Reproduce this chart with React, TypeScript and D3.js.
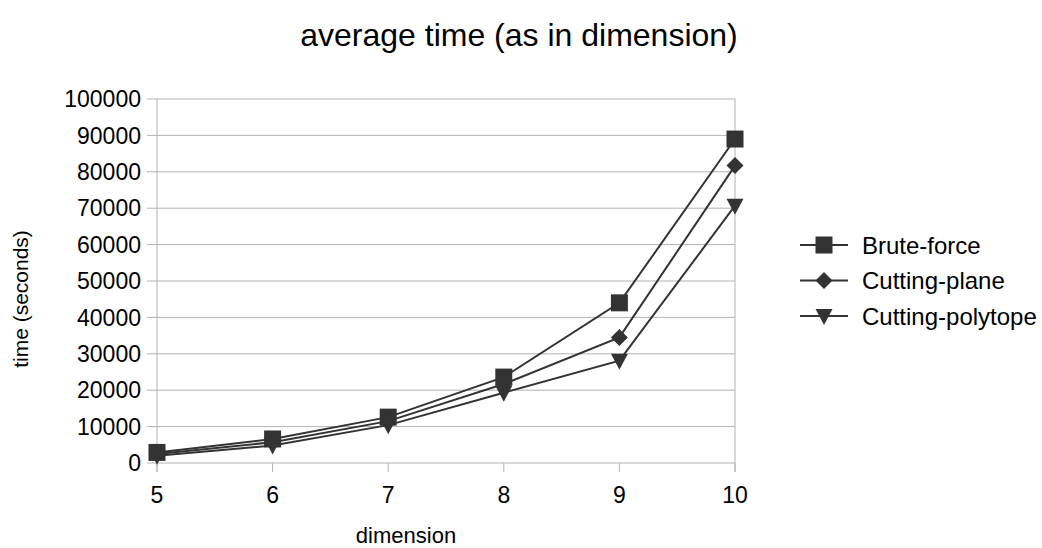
import React from 'react';
import * as d3 from 'd3';

const WIDTH = 1042;
const HEIGHT = 548;

const dimensions = [5, 6, 7, 8, 9, 10];
const bruteForce = [2900, 6600, 12600, 23600, 44000, 89000];
const cuttingPlane = [2500, 5700, 11500, 21700, 34500, 81700];
const cuttingPolytope = [2000, 4800, 10400, 19300, 28100, 70700];
const seriesNames = ['Brute-force', 'Cutting-plane', 'Cutting-polytope'];
const yTicks = [0, 10000, 20000, 30000, 40000, 50000, 60000, 70000, 80000, 90000, 100000];

const FONT = '"Liberation Sans", Arial, sans-serif';
const INK = '#333333';
const GRID = '#b3b3b3';

const margin = { top: 99, right: 307, bottom: 85, left: 157 };

// marker path centred on 0,0
const markerPath = (kind: string) => {
  if (kind === 'square') return 'M-8.5,-8.5H8.5V8.5H-8.5Z';
  if (kind === 'diamond') return 'M0,-8.5L8.5,0L0,8.5L-8.5,0Z';
  return 'M-8.5,-7L8.5,-7L0,9Z';
};

const series = [
  { name: seriesNames[0], values: bruteForce, marker: 'square' },
  { name: seriesNames[1], values: cuttingPlane, marker: 'diamond' },
  { name: seriesNames[2], values: cuttingPolytope, marker: 'triangle' },
];

const App = () => {
  const innerW = WIDTH - margin.left - margin.right;
  const innerH = HEIGHT - margin.top - margin.bottom;

  const x = d3.scaleLinear().domain([5, 10]).range([0, innerW]);
  const y = d3.scaleLinear().domain([0, 100000]).range([innerH, 0]);

  const line = d3.line<number>()
    .x((d, i) => x(dimensions[i]))
    .y(d => y(d));

  return (
    <svg width={WIDTH} height={HEIGHT} style={{ position: 'absolute', left: 0, top: 0, background: '#fff' }}
      fontFamily={FONT}>
      <text x={519} y={46} textAnchor="middle" fontSize={32}>average time (as in dimension)</text>

      <g transform={`translate(${margin.left},${margin.top})`}>
        {yTicks.map(t => (
          <g key={t}>
            <line x1={-10} x2={innerW} y1={y(t)} y2={y(t)} stroke={GRID} strokeWidth={1} />
            <text x={-16} y={y(t)} dy="0.36em" textAnchor="end" fontSize={23}>{t}</text>
          </g>
        ))}
        <line x1={0} x2={0} y1={0} y2={innerH + 9} stroke={GRID} />
        <line x1={innerW} x2={innerW} y1={0} y2={innerH + 9} stroke={GRID} />
        {dimensions.map(d => (
          <g key={d}>
            <line x1={x(d)} x2={x(d)} y1={innerH} y2={innerH + 9} stroke={GRID} />
            <text x={x(d)} y={innerH + 40} textAnchor="middle" fontSize={23}>{d}</text>
          </g>
        ))}

        {series.map(s => (
          <g key={s.name}>
            <path d={line(s.values) || ''} fill="none" stroke={INK} strokeWidth={2} />
            {s.values.map((v, i) => (
              <path key={i} d={markerPath(s.marker)} fill={INK}
                transform={`translate(${x(dimensions[i])},${y(v)})`} />
            ))}
          </g>
        ))}
      </g>

      <text x={406} y={543} textAnchor="middle" fontSize={22}>dimension</text>
      <text transform="translate(28,299) rotate(-90)" textAnchor="middle" fontSize={21}>time (seconds)</text>

      {series.map((s, i) => {
        const ly = 245 + i * 35.5;
        return (
          <g key={s.name} transform={`translate(800,${ly})`}>
            <line x1={0} x2={48} y1={0} y2={0} stroke={INK} strokeWidth={2} />
            <path d={markerPath(s.marker)} fill={INK} transform="translate(24,0)" />
            <text x={62} y={0} dy="0.36em" fontSize={24}>{s.name}</text>
          </g>
        );
      })}
    </svg>
  );
};

export default App;
